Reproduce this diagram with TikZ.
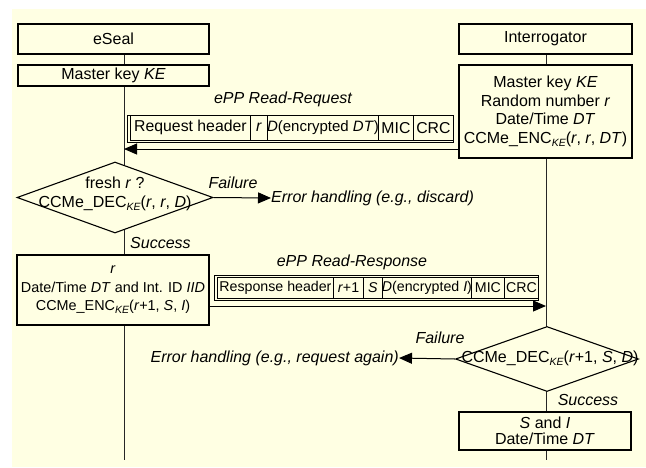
\documentclass[tikz,border=0pt]{standalone}
\usepackage{fontspec}
\setmainfont{Liberation Sans}
\usetikzlibrary{shapes.geometric,arrows.meta}
\definecolor{bgy}{HTML}{FFFFE3}
\newcommand{\sbk}[1]{\raisebox{-0.35ex}{\fontsize{10.5}{10.5}\selectfont\textit{#1}}}
\newcommand{\zw}[1]{\makebox[0pt]{#1}}
\begin{document}
\begin{tikzpicture}[x=1pt,y=-1pt,
  every node/.style={font=\fontsize{16}{18.5}\selectfont},
  box/.style={draw, fill=bgy, line width=1.1pt, inner sep=0pt, align=center},
  decision/.style={draw, fill=bgy, diamond, line width=1.1pt, inner sep=0pt},
  cell/.style={draw, fill=bgy, line width=0.9pt, inner sep=0pt, anchor=north west},
  life/.style={line width=1pt, draw=black!85},
  msg/.style={line width=1pt, -{Triangle[length=13pt,width=11pt]}},
  lab/.style={font=\fontsize{16}{18.5}\selectfont\itshape, inner sep=0pt}]
\useasboundingbox (0,0) rectangle (646,467);
\fill[bgy] (12,9) rectangle (646,467);
% lifelines
\coordinate (Ltop) at (124,54);
\coordinate (Lbot) at (124,460);
\coordinate (Rtop) at (546,54);
\coordinate (Rbot) at (546,460);
\draw[life] (Ltop) -- (Lbot);
\draw[life] (Rtop) -- (Rbot);
% eSeal side
\node[box, minimum width=191pt, minimum height=30pt] (eseal) at (113.5,39) {eSeal};
\node[box, minimum width=191pt, minimum height=21pt] (mkL) at (113.5,75.5) {Master key \textit{KE}};
% Interrogator side
\node[box, minimum width=173pt, minimum height=30pt] (inter) at (545.5,39) {Interrogator};
\node[box, minimum width=173pt, minimum height=93pt] (info) at (545.5,111.5)
  {Master key \textit{KE}\\Random number \textit{r}\\Date/Time \textit{DT}\\CCMe\_ENC\sbk{KE}(\textit{r}, \textit{r}, \textit{DT})};
% request packet
\node[lab] (reqlab) at (283,99) {ePP Read-Request};
\draw[line width=0.9pt, fill=bgy] (127.5,115) rectangle (453,142);
\begin{scope}[every node/.style={font=\fontsize{15.8}{18}\selectfont}]
\node[cell, minimum width=120pt, minimum height=24.5pt] (q1) at (130,115) {\zw{Request header}};
\node[cell, minimum width=17pt, minimum height=24.5pt] (q2) at (250,115) {\zw{\textit{r}}};
\node[cell, minimum width=111pt, minimum height=24.5pt] (q3) at (267,115) {\zw{\fontsize{15}{18}\selectfont\textit{D}(encrypted \textit{DT})}};
\node[cell, minimum width=35pt, minimum height=24.5pt] (q4) at (378,115) {\zw{MIC}};
\node[cell, minimum width=40pt, minimum height=24.5pt] (q5) at (413,115) {\zw{CRC}};
\end{scope}
\coordinate (a1s) at (459,149);
\coordinate (a1e) at (124,149);
\draw[msg] (a1s) -- (a1e);
% decision 1
\node[decision, minimum width=196pt, minimum height=71pt] (d1) at (115,197.5) {};
\node[align=center, inner sep=0pt] (d1t) at (115,194) {fresh \textit{r} ?\\CCMe\_DEC\sbk{KE}(\textit{r}, \textit{r}, \textit{D})};
\node[lab] (fail1) at (233,183) {Failure};
\node[lab, anchor=west] (err1) at (271,198) {Error handling (e.g., discard)};
\draw[msg] (d1.east) -- (err1.west);
\node[lab, anchor=west] (succ1) at (130,243) {Success};
% eSeal response box
\node[box, minimum width=192pt, minimum height=70pt, font=\fontsize{14.4}{18.5}\selectfont] (resp) at (113,290)
  {\textit{r}\\Date/Time \textit{DT} and Int. ID \textit{IID}\\CCMe\_ENC\sbk{KE}(\textit{r}+1, \textit{S}, \textit{I})};
% response packet
\node[lab] (rsplab) at (352,262) {ePP Read-Response};
\draw[line width=0.9pt, fill=bgy] (214,275) rectangle (538,300);
\begin{scope}[every node/.style={font=\fontsize{14.2}{17}\selectfont}]
\node[cell, minimum width=116pt, minimum height=21pt] (p1) at (217,277) {\zw{Response header}};
\node[cell, minimum width=30pt, minimum height=21pt] (p2) at (333,277) {\zw{\textit{r}+1}};
\node[cell, minimum width=19pt, minimum height=21pt] (p3) at (363,277) {\zw{\textit{S}}};
\node[cell, minimum width=89pt, minimum height=21pt] (p4) at (382,277) {\zw{\textit{D}(encrypted \textit{I})}};
\node[cell, minimum width=33pt, minimum height=21pt] (p5) at (471,277) {\zw{MIC}};
\node[cell, minimum width=34pt, minimum height=21pt] (p6) at (504,277) {\zw{CRC}};
\end{scope}
\coordinate (a2s) at (209,306);
\coordinate (a2e) at (546,306);
\draw[msg] (a2s) -- (a2e);
% decision 2
\node[decision, minimum width=183pt, minimum height=65pt] (d2) at (547,359) {};
\node[inner sep=0pt] (d2t) at (550,358) {CCMe\_DEC\sbk{KE}(\textit{r}+1, \textit{S}, \textit{D})};
\node[lab] (fail2) at (440,338) {Failure};
\node[lab, anchor=east] (err2) at (399,358) {Error handling (e.g., request again)};
\draw[msg] (d2.west) -- (err2.east);
\node[lab] (succ2) at (588,400) {Success};
% final box
\node[box, minimum width=172pt, minimum height=38pt, font=\fontsize{16}{16.5}\selectfont] (fin) at (545,431)
  {\textit{S} and \textit{I}\\Date/Time \textit{DT}};
\end{tikzpicture}
\end{document}
